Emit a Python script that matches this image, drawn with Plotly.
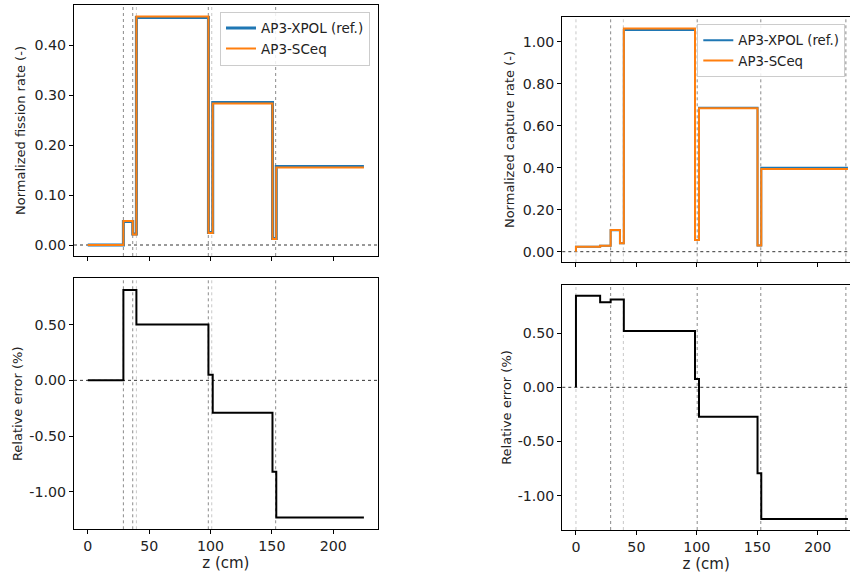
import plotly.graph_objects as go

# ---------------- data ----------------
# Left: fission rate
fis_edges = [0, 29, 36.6, 39.6, 98.3, 101.8, 150.5, 153.6, 225]
fis_xpol = [0.0, 0.047, 0.022, 0.455, 0.025, 0.285, 0.013, 0.157]
fis_sceq = [0.0, 0.048, 0.021, 0.457, 0.024, 0.283, 0.012, 0.155]
fis_err = [0.0, 0.81, 0.81, 0.50, 0.05, -0.29, -0.82, -1.23]
fis_vlines_dark = [29, 36.6, 98.2, 153.1]
fis_vlines_light = [39.6, 101.0]

# Right: capture rate
cap_edges = [0, 20, 28.7, 36.4, 39.6, 98.5, 101.8, 150.2, 153.3, 225]
cap_xpol = [0.024, 0.028, 0.102, 0.040, 1.056, 0.056, 0.685, 0.029, 0.400]
cap_sceq = [0.024, 0.028, 0.103, 0.040, 1.063, 0.056, 0.683, 0.029, 0.394]
cap_err = [0.846, 0.785, 0.812, 0.812, 0.52, 0.077, -0.271, -0.794, -1.216]
cap_vlines_dark = [28.7, 100.3, 152.9, 223.3]
cap_vlines_light = [0, 39.2]

x_tickvals = [0, 50, 100, 150, 200]
x_ticktext = ["0", "50", "100", "150", "200"]
fis_tickvals = [0.0, 0.1, 0.2, 0.3, 0.4]
fis_ticktext = ["0.00", "0.10", "0.20", "0.30", "0.40"]
cap_tickvals = [0.0, 0.2, 0.4, 0.6, 0.8, 1.0]
cap_ticktext = ["0.00", "0.20", "0.40", "0.60", "0.80", "1.00"]
err_tickvals = [-1.0, -0.5, 0.0, 0.5]
err_ticktext = ["-1.00", "-0.50", "0.00", "0.50"]

names = ["AP3-XPOL (ref.)", "AP3-SCeq"]

# ---------------- helpers ----------------
W, H = 850, 578
BLUE = "#1f77b4"
ORANGE = "#ff7f0e"
FONT = "DejaVu Sans"
TXT = "#222222"
TICK_SIZE = 14.2
YTITLE_SIZE = 13
XTITLE_SIZE = 15


def step_xy(edges, vals, start_zero=False):
    xs = list(edges)
    ys = list(vals) + [vals[-1]]
    if start_zero:
        xs = [edges[0]] + xs
        ys = [0.0] + ys
    return xs, ys


def dx(a, b):
    return [a / W, b / W]


def dy(top, bottom):
    return [(H - bottom) / H, (H - top) / H]


fig = go.Figure()

# top-left
x, y = step_xy(fis_edges, fis_xpol)
fig.add_trace(go.Scatter(x=x, y=y, mode="lines", line=dict(color=BLUE, width=3, shape="hv"),
                         name=names[0], xaxis="x", yaxis="y", legend="legend"))
x, y = step_xy(fis_edges, fis_sceq)
fig.add_trace(go.Scatter(x=x, y=y, mode="lines", line=dict(color=ORANGE, width=2, shape="hv"),
                         name=names[1], xaxis="x", yaxis="y", legend="legend"))
# bottom-left
x, y = step_xy(fis_edges, fis_err)
fig.add_trace(go.Scatter(x=x, y=y, mode="lines", line=dict(color="black", width=2, shape="hv"),
                         showlegend=False, xaxis="x2", yaxis="y2"))
# top-right
x, y = step_xy(cap_edges, cap_xpol, True)
fig.add_trace(go.Scatter(x=x, y=y, mode="lines", line=dict(color=BLUE, width=2, shape="hv"),
                         name=names[0], xaxis="x3", yaxis="y3", legend="legend2"))
x, y = step_xy(cap_edges, cap_sceq, True)
fig.add_trace(go.Scatter(x=x, y=y, mode="lines", line=dict(color=ORANGE, width=2, shape="hv"),
                         name=names[1], xaxis="x3", yaxis="y3", legend="legend2"))
# bottom-right
x, y = step_xy(cap_edges, cap_err, True)
fig.add_trace(go.Scatter(x=x, y=y, mode="lines", line=dict(color="black", width=2, shape="hv"),
                         showlegend=False, xaxis="x4", yaxis="y4"))

common = dict(showline=True, linecolor="black", linewidth=1.2, ticks="outside", ticklen=4,
              tickwidth=1, tickcolor="black", showgrid=False, zeroline=False,
              tickfont=dict(family=FONT, size=TICK_SIZE, color=TXT))

L = dx(74, 377.7)
R = dx(562.3, 850)

fig.update_layout(
    width=W, height=H, margin=dict(l=0, r=0, t=0, b=0),
    paper_bgcolor="white", plot_bgcolor="white",
    font=dict(family=FONT, size=13, color=TXT),
    xaxis=dict(domain=L, range=[-11.25, 236.25], anchor="y", tickvals=x_tickvals,
               showticklabels=False, mirror=True, **common),
    yaxis=dict(domain=dy(5, 256), range=[-0.022, 0.48], anchor="x", tickvals=fis_tickvals,
               ticktext=fis_ticktext, mirror=True,
               title=dict(text="Normalized fission rate (-)", font=dict(size=YTITLE_SIZE), standoff=5), **common),
    xaxis2=dict(domain=L, range=[-11.25, 236.25], anchor="y2", tickvals=x_tickvals,
                ticktext=x_ticktext, mirror=True,
                title=dict(text="z (cm)", font=dict(size=XTITLE_SIZE), standoff=2), **common),
    yaxis2=dict(domain=dy(278.3, 529.3), range=[-1.335, 0.915], anchor="x2", tickvals=err_tickvals,
                ticktext=err_ticktext, mirror=True,
                title=dict(text="Relative error (%)", font=dict(size=YTITLE_SIZE), standoff=3), **common),
    xaxis3=dict(domain=R, range=[-11.3, 226.7], anchor="y3", tickvals=x_tickvals,
                showticklabels=False, mirror=True, **common),
    yaxis3=dict(domain=dy(16.7, 262.3), range=[-0.0505, 1.119], anchor="x3", tickvals=cap_tickvals,
                ticktext=cap_ticktext, mirror=False,
                title=dict(text="Normalized capture rate (-)", font=dict(size=YTITLE_SIZE), standoff=5), **common),
    xaxis4=dict(domain=R, range=[-11.3, 226.7], anchor="y4", tickvals=x_tickvals,
                ticktext=x_ticktext, mirror=True,
                title=dict(text="z (cm)", font=dict(size=XTITLE_SIZE), standoff=2), **common),
    yaxis4=dict(domain=dy(285, 530), range=[-1.318, 0.945], anchor="x4", tickvals=err_tickvals,
                ticktext=err_ticktext, mirror=False,
                title=dict(text="Relative error (%)", font=dict(size=YTITLE_SIZE), standoff=3), **common),
    legend=dict(x=370 / W, y=(H - 11.7) / H, xanchor="right", yanchor="top",
                bgcolor="rgba(255,255,255,0.85)", bordercolor="#cccccc", borderwidth=1,
                font=dict(family=FONT, size=13.5, color=TXT), itemwidth=30, tracegroupgap=0),
    legend2=dict(x=697.3 / W, y=(H - 24) / H, xanchor="left", yanchor="top",
                 bgcolor="rgba(255,255,255,0.85)", bordercolor="#cccccc", borderwidth=1,
                 font=dict(family=FONT, size=13.3, color=TXT), itemwidth=30, tracegroupgap=0),
)

shapes = []


def vlines(xref, yref, xs, color):
    for v in xs:
        shapes.append(dict(type="line", xref=xref, yref=yref + " domain", x0=v, x1=v, y0=0, y1=1,
                           line=dict(color=color, width=1, dash="dot"), layer="below"))


for xr, yr in [("x", "y"), ("x2", "y2")]:
    vlines(xr, yr, fis_vlines_dark, "#8a8a8a")
    vlines(xr, yr, fis_vlines_light, "#c8c8c8")
for xr, yr in [("x3", "y3"), ("x4", "y4")]:
    vlines(xr, yr, cap_vlines_dark, "#8a8a8a")
    vlines(xr, yr, cap_vlines_light, "#c8c8c8")
for xr, yr in [("x", "y"), ("x2", "y2"), ("x3", "y3"), ("x4", "y4")]:
    shapes.append(dict(type="line", xref=xr + " domain", yref=yr, x0=0, x1=1, y0=0, y1=0,
                       line=dict(color="black", width=0.8, dash="dot"), layer="below"))
fig.update_layout(shapes=shapes)

fig.write_html("out.html")
